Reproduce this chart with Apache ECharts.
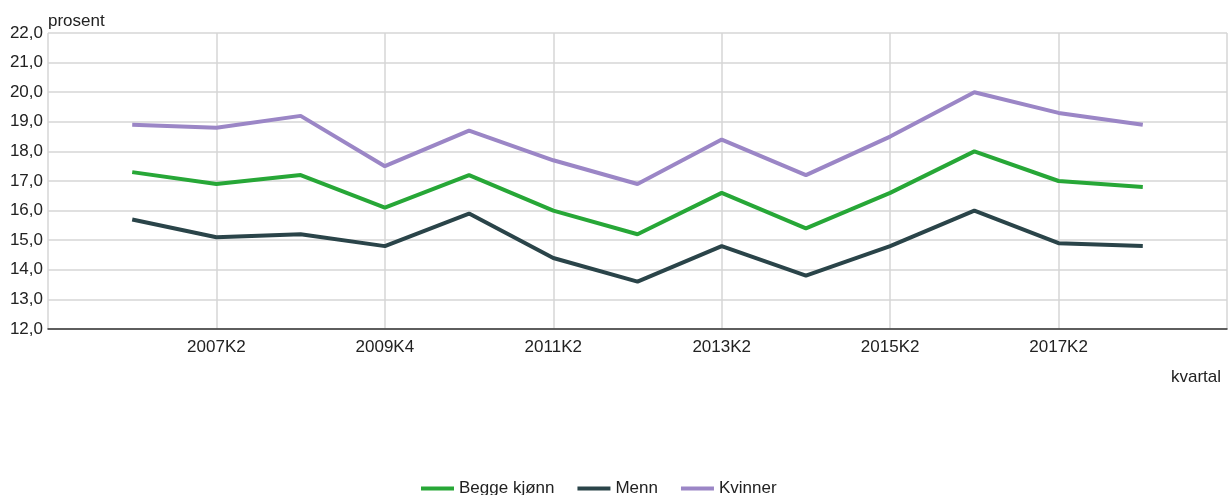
<!DOCTYPE html>
<html>
<head>
<meta charset="utf-8">
<script src="https://cdn.jsdelivr.net/npm/echarts@6/dist/echarts.min.js"></script>
<style>
  html, body { margin: 0; padding: 0; background: #fff; }
  #chart { width: 1230px; height: 495px; }
</style>
</head>
<body>
<div id="chart"></div>
<script>
// Quarters shown on the axis; the empty entries pad both ends of the plot.
const quarters = ['', '2006K2', '2007K2', '2008K2', '2009K4', '2010K2', '2011K2', '2012K2',
                  '2013K2', '2014K2', '2015K2', '2016K2', '2017K2', '2018K2', ''];

const beggeKjonn = [17.3, 16.9, 17.2, 16.1, 17.2, 16.0, 15.2, 16.6, 15.4, 16.6, 18.0, 17.0, 16.8];
const menn       = [15.7, 15.1, 15.2, 14.8, 15.9, 14.4, 13.6, 14.8, 13.8, 14.8, 16.0, 14.9, 14.8];
const kvinner    = [18.9, 18.8, 19.2, 17.5, 18.7, 17.7, 16.9, 18.4, 17.2, 18.5, 20.0, 19.3, 18.9];

const yMin = 12, yMax = 22, yStep = 1;

// Values sit on the inner categories; padding slots stay empty.
const pad = arr => [null, ...arr, null];

const font = 'Liberation Sans, Arial, sans-serif';
const textColor = '#222';

const chart = echarts.init(document.getElementById('chart'));
chart.setOption({
  animation: false,
  // Unit label above the value axis
  title: {
    text: 'prosent',
    left: 43,
    top: 8,
    textStyle: { fontFamily: font, fontSize: 17, fontWeight: 'normal', color: textColor }
  },
  grid: { left: 48, right: 2, top: 33, bottom: 166, containLabel: false },
  legend: {
    bottom: -7,
    left: 416,
    itemWidth: 33,
    itemHeight: 4,
    itemGap: 23,
    icon: 'rect',
    textStyle: { fontFamily: font, fontSize: 17, color: textColor },
    data: ['Begge kjønn', 'Menn', 'Kvinner']
  },
  xAxis: {
    type: 'category',
    data: quarters,
    boundaryGap: false,
    name: 'kvartal',
    nameLocation: 'end',
    nameGap: 0,
    nameTextStyle: {
      fontFamily: font, fontSize: 17, color: textColor,
      align: 'right', verticalAlign: 'top', padding: [40, 6, 0, 0]
    },
    axisLine: { lineStyle: { color: '#333', width: 1.5 } },
    axisTick: { show: false },
    axisLabel: { interval: 1, margin: 10, fontFamily: font, fontSize: 17, color: textColor },
    splitLine: { show: true, interval: 1, lineStyle: { color: '#d6d6d6', width: 1.5 } }
  },
  yAxis: {
    type: 'value',
    min: yMin,
    max: yMax,
    interval: yStep,
    axisLine: { show: false },
    axisTick: { show: false },
    axisLabel: {
      margin: 5, fontFamily: font, fontSize: 17, color: textColor,
      formatter: v => v.toFixed(1).replace('.', ',')
    },
    splitLine: { lineStyle: { color: '#d6d6d6', width: 1.5 } }
  },
  series: [
    { name: 'Begge kjønn', type: 'line', data: pad(beggeKjonn), color: '#27a737',
      showSymbol: false, lineStyle: { width: 4 } },
    { name: 'Menn', type: 'line', data: pad(menn), color: '#2a4449',
      showSymbol: false, lineStyle: { width: 4 } },
    { name: 'Kvinner', type: 'line', data: pad(kvinner), color: '#9b86c6',
      showSymbol: false, lineStyle: { width: 4 } }
  ]
});
</script>
</body>
</html>
